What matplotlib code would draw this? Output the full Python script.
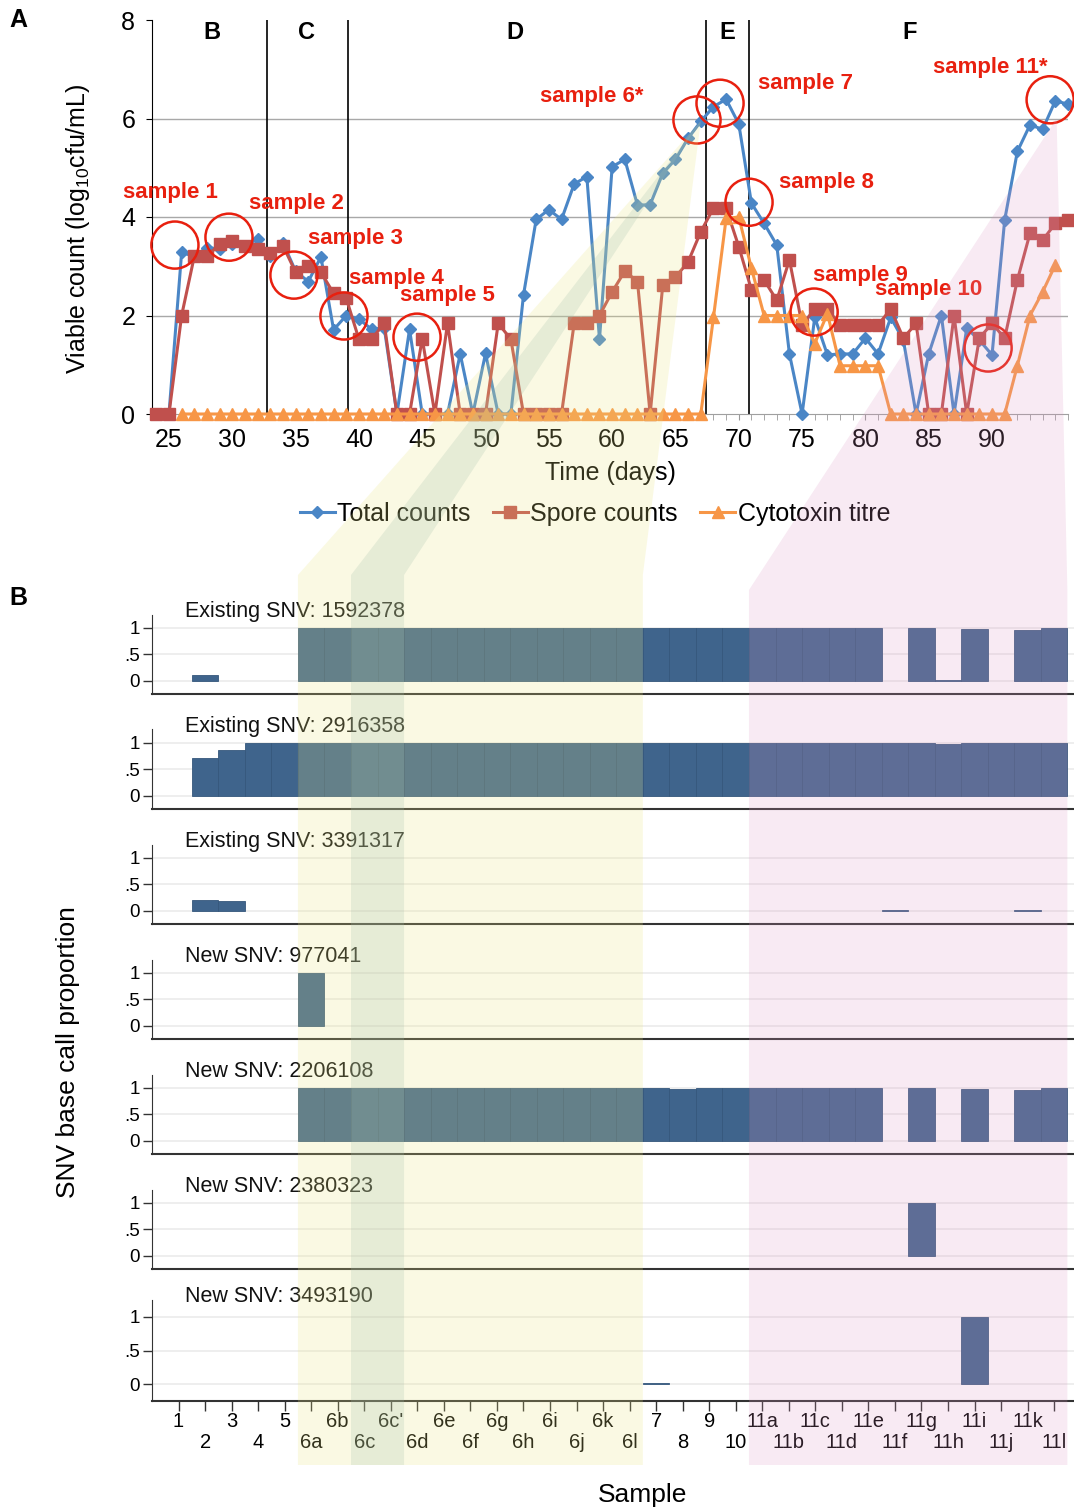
import numpy as np
import matplotlib
matplotlib.use('Agg')
import matplotlib.pyplot as plt
from matplotlib.patches import Polygon
from matplotlib.lines import Line2D
from matplotlib.ticker import FixedLocator

plt.rcParams['font.family'] = ['Liberation Sans', 'DejaVu Sans']
plt.rcParams['mathtext.default'] = 'regular'

# ---------------- panel A: viable counts per day ----------------
days = list(range(24, 97))
total_counts = [0, 0, 3.28, 3.2, 3.38, 3.35, 3.45, 3.4, 3.56, 3.2,        # 24-33
                3.48, 2.9, 2.69, 3.19, 1.71, 2.0, 1.93, 1.72, 1.75, 0,      # 34-43
                1.72, 0, 0, 0, 1.22, 0, 1.23, 0, 0, 2.42,                   # 44-53
                3.95, 4.15, 3.95, 4.67, 4.82, 1.52, 5.02, 5.17, 4.24, 4.25, # 54-63
                4.89, 5.17, 5.6, 5.94, 6.24, 6.39, 5.89, 4.28, 3.87, 3.43,  # 64-73
                1.22, 0, 1.96, 1.2, 1.22, 1.22, 1.54, 1.22, 1.96, 1.5,      # 74-83
                0, 1.22, 2.0, 0, 1.74, 1.5, 1.2, 3.94, 5.33, 5.87,          # 84-93
                5.78, 6.36, 6.29]                                           # 94-96
spore_counts = [0, 0, 2.0, 3.2, 3.2, 3.45, 3.52, 3.42, 3.35, 3.26,         # 24-33
                3.42, 2.88, 3.0, 2.88, 2.45, 2.35, 1.52, 1.52, 1.84, 0,     # 34-43
                0, 1.53, 0, 1.84, 0, 0, 0, 1.84, 1.52, 0,                   # 44-53
                0, 0, 0, 1.84, 1.84, 2.0, 2.48, 2.9, 2.69, 0,               # 54-63
                2.62, 2.78, 3.09, 3.7, 4.18, 4.18, 3.4, 2.52, 2.72, 2.31,   # 64-73
                3.13, 1.81, 2.13, 2.13, 1.81, 1.81, 1.81, 1.81, 2.13, 1.54, # 74-83
                1.84, 0, 0, 2.0, 0, 1.54, 1.84, 1.54, 2.72, 3.67,           # 84-93
                3.53, 3.87, 3.94]                                           # 94-96
toxin_days = list(range(26, 96))
cytotoxin = [0, 0, 0, 0, 0, 0, 0, 0, 0, 0,                                  # 26-35
             0, 0, 0, 0, 0, 0, 0, 0, 0, 0,                                  # 36-45
             0, 0, 0, 0, 0, 0, 0, 0, 0, 0,                                  # 46-55
             0, 0, 0, 0, 0, 0, 0, 0, 0, 0,                                  # 56-65
             0, 0, 1.96, 3.97, 4.0, 2.96, 2.0, 2.0, 2.0, 2.0,               # 66-75
             1.43, 2.04, 0.98, 0.98, 0.98, 0.98, 0, 0, 0, 0,                # 76-85
             0, 0, 0, 0, 0, 0, 0.98, 2.0, 2.48, 3.03]                       # 86-95

phase_bounds = [32.75, 39.1, 67.4, 70.8]
phase_labels = ['B', 'C', 'D', 'E', 'F']
phase_label_x = [28.4, 35.9, 52.3, 69.1, 83.5]

sample_names = ['sample 1', 'sample 2', 'sample 3', 'sample 4', 'sample 5', 'sample 6*',
                'sample 7', 'sample 8', 'sample 9', 'sample 10', 'sample 11*']
circle_day = [25.47, 29.74, 34.87, 38.82, 44.59, 66.7, 68.52, 70.81, 75.95, 89.69, 94.59]
circle_val = [3.43, 3.59, 2.82, 1.99, 1.56, 5.97, 6.31, 4.30, 2.07, 1.34, 6.38]
label_day = [25.08, 35.03, 39.7, 43.0, 47.0, 58.4, 75.3, 76.9, 79.6, 85.0, 89.85]
label_val = [4.49, 4.28, 3.57, 2.76, 2.4, 6.44, 6.72, 4.71, 2.82, 2.52, 7.03]

# ---------------- panel B: SNV base call proportions ----------------
samples = ['1', '2', '3', '4', '5', '6a', '6b', '6c', "6c'", '6d', '6e', '6f', '6g', '6h',
           '6i', '6j', '6k', '6l', '7', '8', '9', '10', '11a', '11b', '11c', '11d', '11e',
           '11f', '11g', '11h', '11i', '11j', '11k', '11l']
snv_titles = ['Existing SNV: 1592378', 'Existing SNV: 2916358', 'Existing SNV: 3391317',
              'New SNV: 977041', 'New SNV: 2206108', 'New SNV: 2380323', 'New SNV: 3493190']
#                1    2     3     4     5    6a 6b 6c 6c' 6d 6e 6f 6g 6h 6i 6j 6k 6l  7   8    9  10  11a  11b 11c 11d 11e 11f 11g 11h   11i  11j 11k   11l
snv_1592378 = [0, 0.1, 0, 0, 0, 1, 1, 1, 1, 1, 1, 1, 1, 1, 1, 1, 1, 1, 1, 1, 1, 1, 1, 1, 1, 1, 1, 0, 1, 0.02, 0.98, 0, 0.95, 1]
snv_2916358 = [0, 0.72, 0.87, 0.99, 1, 1, 1, 1, 1, 1, 1, 1, 1, 1, 1, 1, 1, 1, 1, 1, 1, 1, 0.99, 1, 1, 1, 1, 1, 1, 0.98, 1, 1, 1, 1]
snv_3391317 = [0, 0.2, 0.18, 0, 0, 0, 0, 0, 0, 0, 0, 0, 0, 0, 0, 0, 0, 0, 0, 0, 0, 0, 0, 0, 0, 0, 0, 0.01, 0, 0, 0, 0, 0.01, 0]
snv_977041 = [0, 0, 0, 0, 0, 1, 0, 0, 0, 0, 0, 0, 0, 0, 0, 0, 0, 0, 0, 0, 0, 0, 0, 0, 0, 0, 0, 0, 0, 0, 0, 0, 0, 0]
snv_2206108 = [0, 0, 0, 0, 0, 1, 1, 1, 1, 1, 1, 1, 1, 1, 1, 1, 1, 1, 1, 0.98, 1, 1, 1, 1, 1, 1, 1, 0, 1, 0, 0.98, 0, 0.95, 1]
snv_2380323 = [0, 0, 0, 0, 0, 0, 0, 0, 0, 0, 0, 0, 0, 0, 0, 0, 0, 0, 0, 0, 0, 0, 0, 0, 0, 0, 0, 0, 1, 0, 0, 0, 0, 0]
snv_3493190 = [0, 0, 0, 0, 0, 0, 0, 0, 0, 0, 0, 0, 0, 0, 0, 0, 0, 0, 0.02, 0, 0, 0, 0, 0, 0, 0, 0, 0, 0, 0, 1, 0, 0, 0]
snv_values = [snv_1592378, snv_2916358, snv_3391317, snv_977041, snv_2206108, snv_2380323, snv_3493190]

# colours
BLUE, RED, ORANGE = '#4a86c6', '#c0504d', '#f79646'
CIRCLE = '#e8200f'
BAR, BAR_EDGE = '#3f648c', '#35577c'

W, H = 1074, 1512


def rect(l, t, r, b):
    return [l / W, 1 - b / H, (r - l) / W, (b - t) / H]


fig = plt.figure(figsize=(W / 100, H / 100), dpi=100)

# ---------------- top chart ----------------
ax = fig.add_axes(rect(152, 20, 1068, 414))
ax.plot(days, total_counts, color=BLUE, lw=2.2, marker='D', ms=6.5, zorder=3, clip_on=False)
ax.plot(days, spore_counts, color=RED, lw=2.2, marker='s', ms=9, zorder=4, clip_on=False)
ax.plot(toxin_days, cytotoxin, color=ORANGE, lw=2.2, marker='^', ms=9, zorder=5, clip_on=False)
for d in phase_bounds:
    ax.axvline(d, color='black', lw=1.2, zorder=2)
for lab, x in zip(phase_labels, phase_label_x):
    ax.text(x, 7.74, lab, ha='center', va='center', fontsize=17, fontweight='bold')
ax.scatter(circle_day, circle_val, s=1150, facecolors='none', edgecolors=CIRCLE,
           linewidths=1.8, zorder=6, clip_on=False)
for lab, x, y in zip(sample_names, label_day, label_val):
    ax.text(x, y, lab, color=CIRCLE, fontsize=16, fontweight='bold',
            ha='center', va='center', zorder=7)

ax.set_xlim(23.66, 96.0)
ax.set_ylim(0, 8)
yt = [0, 2, 4, 6, 8]
ax.set_yticks(yt)
ax.set_xticks([25, 30, 35, 40, 45, 50, 55, 60, 65, 70, 75, 80, 85, 90])
ax.xaxis.set_minor_locator(FixedLocator(days))
ax.tick_params(axis='x', which='both', length=4, color='#999999', labelsize=18, pad=6)
ax.tick_params(axis='y', length=4, color='black', labelsize=18, pad=8)
ax.grid(axis='y', color='#a8a8a8', lw=1.0, zorder=1)
for gl, v in zip(ax.get_ygridlines(), yt):
    if v in (0, 8):
        gl.set_visible(False)
for s in ('top', 'right'):
    ax.spines[s].set_visible(False)
ax.spines['bottom'].set_color('#a0a0a0')
ax.spines['left'].set_color('black')
ax.set_ylabel('Viable count (log$_{10}$cfu/mL)', fontsize=18)
ax.yaxis.set_label_coords(-0.0655, 0.47)
ax.set_xlabel('Time (days)', fontsize=18)
ax.xaxis.set_label_coords(0.5, -0.12)

handles = [Line2D([], [], color=BLUE, lw=2.2, marker='D', ms=6.5),
           Line2D([], [], color=RED, lw=2.2, marker='s', ms=9),
           Line2D([], [], color=ORANGE, lw=2.2, marker='^', ms=9)]
fig.legend(handles, ['Total counts', 'Spore counts', 'Cytotoxin titre'], loc='center',
           bbox_to_anchor=(0.554, 1 - 514 / H), ncol=3, frameon=False, fontsize=18,
           handlelength=1.4, handletextpad=0.1, columnspacing=0.9)

# ---------------- SNV panels ----------------
pos = np.arange(1, len(samples) + 1)
panel_tb = [(614.5, 694), (729.5, 809), (844.5, 924), (959.5, 1039),
            (1074.5, 1154), (1189.5, 1269), (1300, 1401)]
panels = []
for i, (title, vals, (t, b)) in enumerate(zip(snv_titles, snv_values, panel_tb)):
    axb = fig.add_axes(rect(152, t, 1074, b))
    panels.append(axb)
    axb.bar(pos, vals, width=1.0, color=BAR, edgecolor=BAR_EDGE,
            linewidth=[0.6 if v > 0 else 0 for v in vals], zorder=2)
    axb.set_xlim(0, 34.75)
    axb.set_ylim(-0.25, 1.25)
    axb.set_yticks([0, 0.5, 1])
    axb.set_yticklabels(['0', '.5', '1'])
    axb.yaxis.grid(True, color='#ebebeb', lw=1.2)
    axb.set_axisbelow(True)
    for s in ('top', 'right'):
        axb.spines[s].set_visible(False)
    axb.spines['left'].set_color('#333333')
    axb.spines['bottom'].set_color('#333333')
    axb.spines['bottom'].set_linewidth(1.5)
    axb.tick_params(axis='y', length=6.5, width=1, color='#333333', labelsize=13.5, pad=2)
    axb.text(0.036, 1 + 3 / (b - t), title, transform=axb.transAxes, fontsize=15.5,
             ha='left', va='center', color='#111111')
    if i == len(snv_titles) - 1:
        # two staggered rows of sample labels
        axb.set_xticks(pos[0::2])
        axb.set_xticklabels(samples[0::2])
        axb.set_xticks(pos[1::2], minor=True)
        axb.set_xticklabels(samples[1::2], minor=True)
        axb.tick_params(axis='x', which='major', length=7, width=1, color='#333333',
                        labelsize=14.5, pad=1)
        axb.tick_params(axis='x', which='minor', length=7, width=1, color='#333333',
                        labelsize=14.5, pad=16)
    else:
        axb.set_xticks([])

fig.text(18 / W, 1 - 20 / H, 'A', fontsize=18, fontweight='bold', ha='center', va='center')
fig.text(18 / W, 1 - 598 / H, 'B', fontsize=18, fontweight='bold', ha='center', va='center')
fig.text(68 / W, 1 - 1052 / H, 'SNV base call proportion', fontsize=19, rotation=90,
         ha='center', va='center')
fig.text(643 / W, 1 - 1495 / H, 'Sample', fontsize=19, ha='center', va='center')

# ---------------- zoom wedges linking panel A to panel B ----------------
to_fig = fig.transFigure.inverted()
last = panels[-1]


def apex(x, y):
    return to_fig.transform(ax.transData.transform((x, y)))


def bottom_x(p):
    return to_fig.transform(last.transData.transform((p, 0)))[0]


def wedge(top_pt, left, right, corner_px, color, alpha):
    yc = 1 - corner_px / H
    yb = 1 - 1465 / H
    xl, xr = bottom_x(left), bottom_x(right)
    pts = [top_pt, (xl, yc), (xl, yb), (xr, yb), (xr, yc)]
    fig.add_artist(Polygon(pts, closed=True, transform=fig.transFigure,
                           facecolor=color, edgecolor='none', alpha=alpha, zorder=10))


apex6 = apex(67.0, 5.95)
apex11 = apex(95.1, 6.0)
wedge(apex6, 5.5, 18.5, 575, '#ebe682', 0.22)     # sample 6 sub-samples
wedge(apex6, 7.5, 9.5, 575, '#a0beaa', 0.22)      # 6c / 6c'
wedge(apex11, 22.5, 34.5, 590, '#dc96c3', 0.2)    # sample 11 sub-samples

fig.savefig('out.png', dpi=100)
